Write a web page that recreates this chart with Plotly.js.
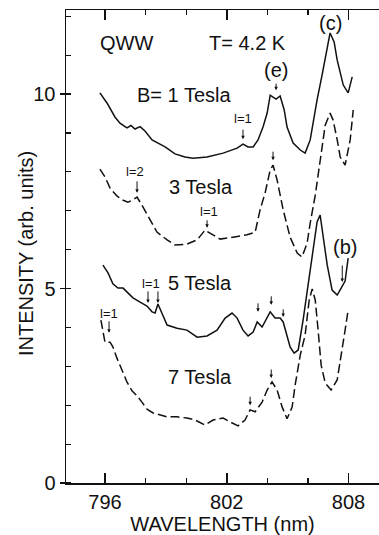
<!DOCTYPE html>
<html>
<head>
<meta charset="utf-8">
<script src="https://cdn.plot.ly/plotly-3.0.1.min.js"></script>
<style>html,body{margin:0;padding:0;background:#fff;}#chart{width:379px;height:535px;}</style>
</head>
<body>
<div id="chart"></div>
<script>
// B = 1 Tesla (solid)
const wl1 = [795.75,796.10,796.49,796.74,797.08,797.28,797.48,797.73,797.97,798.32,798.96,799.45,799.94,800.34,801.03,801.82,802.51,802.80,803.05,803.30,803.54,803.79,803.99,804.14,804.28,804.43,804.63,804.83,804.97,805.27,805.62,805.86,806.11,806.26,806.45,806.70,806.90,807.09,807.29,807.44,807.74,807.98,808.18];
const int1 = [10.03,9.77,9.41,9.25,9.13,9.19,9.10,9.16,9.05,8.82,8.64,8.46,8.38,8.35,8.38,8.48,8.61,8.71,8.64,8.64,8.82,9.16,9.51,9.97,9.92,9.87,9.95,9.59,9.15,8.74,8.56,8.48,8.82,9.30,9.85,10.50,11.10,11.57,11.34,10.87,10.23,10.03,10.44];
// 3 Tesla (dashed)
const wl3 = [795.75,796.00,796.25,796.59,796.84,797.13,797.38,797.58,797.87,798.22,798.56,799.06,799.45,800.04,800.54,800.93,801.33,801.67,802.31,803.00,803.40,803.64,803.89,804.14,804.28,804.48,804.78,805.12,805.47,805.71,805.96,806.11,806.36,806.60,806.85,807.09,807.24,807.44,807.59,807.83,808.08,808.23];
const int3 = [8.07,7.87,7.58,7.38,7.28,7.22,7.28,7.35,7.10,6.76,6.45,6.25,6.12,6.14,6.25,6.50,6.38,6.27,6.32,6.38,6.45,7.02,7.46,8.05,8.17,7.79,7.02,6.32,5.91,5.81,6.17,6.68,7.40,8.30,9.20,9.51,9.33,8.82,8.38,8.17,8.82,9.59];
// 5 Tesla (solid)
const wl5 = [795.90,796.15,796.39,796.64,796.89,797.13,797.38,797.73,798.07,798.32,798.47,798.61,798.81,799.06,799.55,800.04,800.54,801.03,801.52,801.92,802.26,802.51,802.80,803.05,803.30,803.50,803.74,804.14,804.38,804.63,804.78,804.97,805.12,805.32,805.52,805.76,806.01,806.26,806.45,806.60,806.75,806.95,807.19,807.44,807.69,807.83,807.98];
const int5 = [5.60,5.40,5.12,5.01,5.01,4.88,4.76,4.65,4.55,4.40,4.37,4.60,4.34,4.06,3.98,3.93,3.75,3.78,3.93,4.24,4.37,4.24,3.93,3.78,3.88,4.14,4.01,4.40,4.24,4.24,4.14,3.75,3.50,3.34,3.42,4.19,5.09,6.12,6.71,6.89,6.38,5.60,4.96,4.83,5.06,5.19,5.78];
// 7 Tesla (dashed)
const wl7 = [795.80,795.90,796.00,796.25,796.39,796.59,796.84,797.08,797.33,797.58,797.82,798.07,798.37,798.71,799.06,799.55,800.04,800.44,800.93,801.33,801.82,802.16,802.56,802.90,803.15,803.40,803.74,803.99,804.23,804.48,804.73,804.97,805.22,805.37,805.62,805.86,806.06,806.21,806.36,806.50,806.65,806.85,807.14,807.44,807.69,807.83,807.98];
const int7 = [4.19,3.86,3.62,3.62,3.50,3.21,2.90,2.60,2.37,2.24,2.08,1.90,1.80,1.75,1.70,1.70,1.67,1.62,1.49,1.62,1.67,1.57,1.47,1.62,1.88,1.83,2.08,2.39,2.60,2.39,1.95,1.65,1.95,2.52,3.29,3.80,4.70,4.99,4.70,3.93,3.03,2.57,2.39,2.65,3.42,3.93,4.45];

const xTickVals = [796, 802, 808];
const yTickVals = [0, 5, 10];

// text labels
const labelText = ["QWW","T= 4.2 K","(c)","(e)","B= 1 Tesla","l=1","l=2","3 Tesla","l=1","l=1","5 Tesla","l=1","7 Tesla","(b)"];
const labelX = [797.04,803.00,807.09,804.43,799.90,802.80,797.48,800.73,801.13,798.27,800.68,796.20,800.68,807.83];
const labelY = [11.31,11.31,11.83,10.62,9.97,9.36,8.00,7.61,6.97,5.14,5.14,4.37,2.72,6.07];
const labelSize = [20,20,20,20,20,13,13,20,13,13,20,13,20,20];
// arrows: tip positions and pixel length
const arrowX = [804.43,802.80,797.58,801.03,804.28,798.12,798.61,803.54,804.19,804.78,807.69,796.20,803.15,804.19];
const arrowY = [10.10,8.84,7.46,6.56,8.30,4.63,4.63,4.40,4.58,4.27,5.17,3.86,2.00,2.70];
const arrowLen = [8,11,13,9,10,13,13,10,10,9,18,13,10,10];

const font = "Liberation Sans, Arial, sans-serif";
const lineStyle = (dash) => ({color:"#111", width:1.5, dash: dash ? "9px,4px" : "solid"});

const traces = [
  {x: wl1, y: int1, mode:"lines", line: lineStyle(false), name:"1 T"},
  {x: wl3, y: int3, mode:"lines", line: lineStyle(true), name:"3 T"},
  {x: wl5, y: int5, mode:"lines", line: lineStyle(false), name:"5 T"},
  {x: wl7, y: int7, mode:"lines", line: lineStyle(true), name:"7 T"}
];

const annotations = [];
for (let i = 0; i < labelText.length; i++) {
  annotations.push({x: labelX[i], y: labelY[i], xref:"x", yref:"y", text: labelText[i], showarrow:false,
    font:{family: font, size: labelSize[i], color:"#111"}, xanchor:"center", yanchor:"middle"});
}
for (let i = 0; i < arrowX.length; i++) {
  annotations.push({x: arrowX[i], y: arrowY[i], xref:"x", yref:"y", text:"", showarrow:true,
    ax:0, ay:-arrowLen[i], arrowhead:2, arrowsize:0.7, arrowwidth:1, arrowcolor:"#111"});
}
// y-axis title placed as rotated annotation
annotations.push({xref:"paper", yref:"paper", x:-0.128, y:0.486, text:"INTENSITY (arb. units)",
  textangle:-90, showarrow:false, xanchor:"center", yanchor:"middle",
  font:{family: font, size: 20, color:"#111"}});

const layout = {
  width: 379, height: 535,
  margin: {l: 66, r: 0, t: 10, b: 52},
  paper_bgcolor: "#fff", plot_bgcolor: "#fff",
  showlegend: false,
  font: {family: font, color: "#111", size: 20},
  xaxis: {
    range: [794.08, 809.5], tickvals: xTickVals, ticktext: xTickVals.map(String),
    ticks: "inside", ticklen: 10, tickwidth: 1.5, tickcolor: "#111",
    minor: {dtick: 2, tick0: 796, ticks: "inside", ticklen: 5, tickwidth: 1.2, tickcolor:"#111"},
    showline: true, linecolor: "#111", linewidth: 1.5, mirror: "ticks",
    showgrid: false, zeroline: false,
    tickfont: {size: 20, family: font},
    title: {text: "WAVELENGTH (nm)", font: {size: 20, family: font}, standoff: 4}
  },
  yaxis: {
    range: [0, 12.16], tickvals: yTickVals, ticktext: yTickVals.map(String),
    ticks: "outside", ticklen: 5, tickwidth: 1.5, tickcolor: "#111",
    minor: {dtick: 1, tick0: 0, ticks: "inside", ticklen: 5, tickwidth: 1.2, tickcolor:"#111"},
    showline: true, linecolor: "#111", linewidth: 1.5, mirror: false,
    showgrid: false, zeroline: false,
    tickfont: {size: 20, family: font}
  },
  annotations: annotations
};

Plotly.newPlot("chart", traces, layout, {staticPlot: true, displayModeBar: false});
</script>
</body>
</html>
